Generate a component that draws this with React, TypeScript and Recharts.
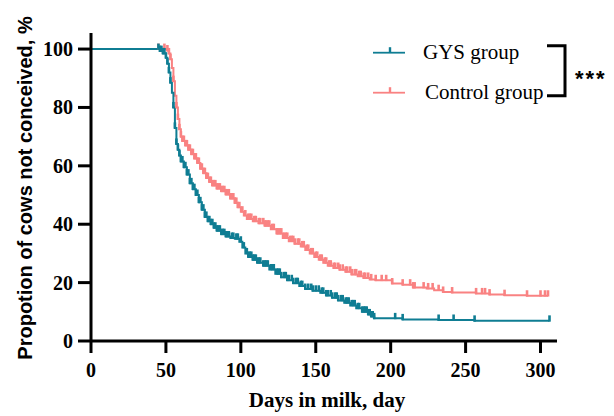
import React from 'react';
import { ComposedChart, Line, Scatter, XAxis, YAxis, Legend, Label } from 'recharts';

// Kaplan-Meier steps: [day, % not conceived]
const gysSteps: [number, number][] = [
  [0, 100], [45, 100], [46, 99.3], [48, 98.5], [50, 97], [51, 95], [52, 92], [53, 88.5], [54, 85],
  [55, 80], [56, 73], [57, 67.5], [58, 65.5], [59, 63.5], [60, 61.5], [62, 59.5], [64, 57], [66, 54],
  [68, 52], [70, 50], [72, 47.5], [74, 45], [76, 42.5], [78, 41], [80, 40], [82, 38.8], [84, 37.8],
  [87, 36.6], [90, 35.8], [93, 35.3], [96, 35], [99, 34], [101, 32], [103, 30], [105, 28.8],
  [108, 27.8], [111, 26.8], [115, 25.8], [119, 24.5], [123, 23], [127, 21.8], [131, 20.8], [135, 19.8],
  [139, 18.8], [143, 17.8], [148, 17.2], [153, 16.5], [157, 15.6], [161, 14.8], [165, 13.9],
  [169, 13.1], [173, 12.2], [177, 11.2], [181, 10], [185, 9.1], [187, 8.4], [189, 7.75], [208, 7.4],
  [232, 7.2], [256, 6.9], [306, 6.9],
];

const controlSteps: [number, number][] = [
  [0, 100], [50, 100], [51, 99.5], [52, 98.5], [53, 96.5], [54, 93.5], [55, 89], [56, 84], [57, 80],
  [58, 76], [59, 72.5], [60, 70], [61, 68.5], [63, 67], [65, 65.5], [67, 64], [69, 62.5], [71, 61],
  [73, 59], [75, 57.5], [77, 55.8], [79, 54.5], [81, 53.3], [84, 52.2], [87, 51.3], [90, 50.2],
  [93, 48.8], [96, 47.3], [98, 45.8], [100, 44.3], [102, 43], [104, 41.8], [108, 41], [112, 40.3],
  [116, 39.5], [120, 38.3], [124, 36.8], [128, 35.3], [132, 34.2], [136, 33.3], [140, 32.4],
  [143, 31.2], [146, 30], [149, 28.8], [152, 27.8], [155, 26.8], [158, 25.8], [162, 25], [166, 24.4],
  [170, 23.7], [174, 22.8], [178, 22.2], [182, 21.6], [186, 21.1], [190, 20.8], [201, 19.7],
  [208, 19.3], [215, 18.3], [224, 18], [229, 17.4], [235, 16.8], [241, 16.6], [257, 16.3], [266, 15.9],
  [276, 15.7], [291, 15.5], [305, 15.5],
];

// censored observations (tick marks)
const gysCensorDays = [
  45, 46, 47, 48, 49, 50, 51, 52, 53, 55, 56, 57, 58, 59, 60, 61, 62, 63, 64, 65, 66, 67, 68, 69, 70,
  71, 72, 73, 74, 75, 76, 77, 78, 79, 80, 81, 82, 83, 84, 85, 86, 87, 88, 89, 90, 91, 92, 94, 95, 97,
  98, 100, 102, 104, 105, 106, 107, 108, 109, 110, 111, 112, 113, 115, 116, 117, 118, 120, 121, 122,
  124, 125, 126, 127, 129, 130, 131, 132, 134, 135, 137, 138, 140, 141, 143, 145, 147, 148, 150, 152,
  154, 155, 157, 158, 160, 161, 163, 164, 165, 167, 168, 170, 171, 172, 174, 175, 176, 178, 179, 181,
  182, 183, 184, 185, 186, 187, 188, 189, 203, 208, 232, 242, 256, 306,
];

const controlCensorDays = [
  45, 49, 51, 52, 53, 55, 57, 58, 59, 60, 61, 62, 63, 64, 65, 66, 67, 68, 69, 70, 71, 72, 73, 74, 75,
  76, 77, 78, 79, 80, 81, 82, 83, 84, 85, 86, 87, 88, 89, 90, 91, 92, 93, 94, 95, 96, 97, 98, 99, 101,
  103, 105, 106, 107, 109, 110, 112, 113, 115, 116, 117, 118, 119, 121, 122, 124, 125, 126, 127, 129,
  130, 131, 133, 134, 135, 136, 138, 139, 141, 142, 144, 145, 147, 148, 150, 151, 153, 154, 156, 157,
  159, 160, 162, 163, 165, 166, 168, 170, 171, 173, 174, 176, 177, 179, 180, 182, 183, 185, 187, 190,
  194, 197, 201, 208, 213, 215, 216, 222, 225, 228, 232, 235, 241, 257, 261, 263, 266, 276, 291, 300,
  303, 305,
];

const seriesNames = ['GYS group', 'Control group'];
const xTicks = [0, 50, 100, 150, 200, 250, 300];
const yTicks = [0, 20, 40, 60, 80, 100];

const GYS_COLOR = '#0f7d93';
const CONTROL_COLOR = '#f98282';

const toPoints = (steps: [number, number][]) => steps.map(([day, value]) => ({ day, value }));

// value of the step curve at a given day
const stepValue = (steps: [number, number][], day: number) => {
  let v = steps[0][1];
  for (const [d, val] of steps) {
    if (d <= day) v = val;
  }
  return v;
};

const toCensor = (steps: [number, number][], days: number[]) =>
  days.map((day) => ({ day, value: stepValue(steps, day) }));

const gysData = toPoints(gysSteps);
const controlData = toPoints(controlSteps);
const gysCensor = toCensor(gysSteps, gysCensorDays);
const controlCensor = toCensor(controlSteps, controlCensorDays);

const censorShape = (color: string) => (props: any) => {
  const { cx, cy } = props;
  if (cx == null || cy == null) return <g />;
  return <line x1={cx} x2={cx} y1={cy + 0.8} y2={cy - 5.5} stroke={color} strokeWidth={2.6} />;
};

const XTick = (props: any) => {
  const { x, y, payload } = props;
  return (
    <text x={x} y={y + 14} textAnchor="middle" fill="#000" fontSize={20} fontFamily="Liberation Serif" fontWeight="bold">
      {payload.value}
    </text>
  );
};

const YTick = (props: any) => {
  const { x, y, payload } = props;
  return (
    <text x={x} y={y + 7} textAnchor="end" fill="#000" fontSize={20} fontFamily="Liberation Serif" fontWeight="bold">
      {payload.value}
    </text>
  );
};

const LegendBox = (props: any) => {
  const payload = props.payload || [];
  return (
    <svg width={244} height={75} style={{ overflow: 'visible' }}>
      {seriesNames.map((name, i) => {
        const item = payload.find((p: any) => p.value === name);
        const color = item ? item.color : i === 0 ? GYS_COLOR : CONTROL_COLOR;
        const y = i === 0 ? 17.7 : 57.7;
        return (
          <g key={name}>
            <line x1={3} x2={35} y1={y} y2={y} stroke={color} strokeWidth={1.8} />
            <line x1={20} x2={20} y1={y} y2={y - 5.5} stroke={color} strokeWidth={2.4} />
            <text x={i === 0 ? 53 : 55} y={i === 0 ? 24 : 64.3} fontFamily="Liberation Serif" fontSize={21} fill="#000">
              {name}
            </text>
          </g>
        );
      })}
      <polyline points="177,10.7 195,10.7 195,60.7 177,60.7" fill="none" stroke="#000" strokeWidth={3} />
      <text x={205} y={51} fontFamily="Liberation Sans" fontWeight="bold" fontSize={22} letterSpacing={2} fill="#000">
        ***
      </text>
    </svg>
  );
};

const YTitle = () => (
  <text
    transform="translate(31.5,188) rotate(-90)"
    textAnchor="middle"
    fontFamily="Liberation Sans"
    fontWeight="bold"
    fontSize={20}
    fill="#000"
  >
    Propotion of cows not conceived, %
  </text>
);

const XTitle = () => (
  <text x={327} y={406.5} textAnchor="middle" fontFamily="Liberation Serif" fontWeight="bold" fontSize={21} fill="#000">
    Days in milk, day
  </text>
);

export default function App() {
  return (
    <div style={{ position: 'absolute', left: 0, top: 0, width: 614, height: 416, background: '#fff' }}>
      <ComposedChart width={614} height={416} margin={{ top: 33, right: 57, bottom: 0, left: 0 }}>
        <XAxis
          type="number"
          dataKey="day"
          domain={[0, 311]}
          ticks={xTicks}
          height={75}
          tickSize={12}
          tickMargin={10}
          axisLine={{ stroke: '#000', strokeWidth: 3 }}
          tickLine={{ stroke: '#000', strokeWidth: 3 }}
          tick={XTick}
        >
          <Label content={XTitle} />
        </XAxis>
        <YAxis
          type="number"
          domain={[0, 105.5]}
          ticks={yTicks}
          width={91}
          tickSize={13}
          tickMargin={5}
          axisLine={{ stroke: '#000', strokeWidth: 3 }}
          tickLine={{ stroke: '#000', strokeWidth: 3 }}
          tick={YTick}
        >
          <Label content={YTitle} />
        </YAxis>
        <Legend
          layout="horizontal"
          verticalAlign="middle"
          align="center"
          content={LegendBox}
          wrapperStyle={{ position: 'absolute', left: 370, top: 35, width: 244, height: 75 }}
        />
        <Line
          data={controlData}
          dataKey="value"
          name="Control group"
          type="stepAfter"
          stroke={CONTROL_COLOR}
          strokeWidth={2}
          dot={false}
          activeDot={false}
          isAnimationActive={false}
        />
        <Scatter
          data={controlCensor}
          dataKey="value"
          legendType="none"
          shape={censorShape(CONTROL_COLOR)}
          isAnimationActive={false}
        />
        <Line
          data={gysData}
          dataKey="value"
          name="GYS group"
          type="stepAfter"
          stroke={GYS_COLOR}
          strokeWidth={2}
          dot={false}
          activeDot={false}
          isAnimationActive={false}
        />
        <Scatter
          data={gysCensor}
          dataKey="value"
          legendType="none"
          shape={censorShape(GYS_COLOR)}
          isAnimationActive={false}
        />
      </ComposedChart>
    </div>
  );
}
